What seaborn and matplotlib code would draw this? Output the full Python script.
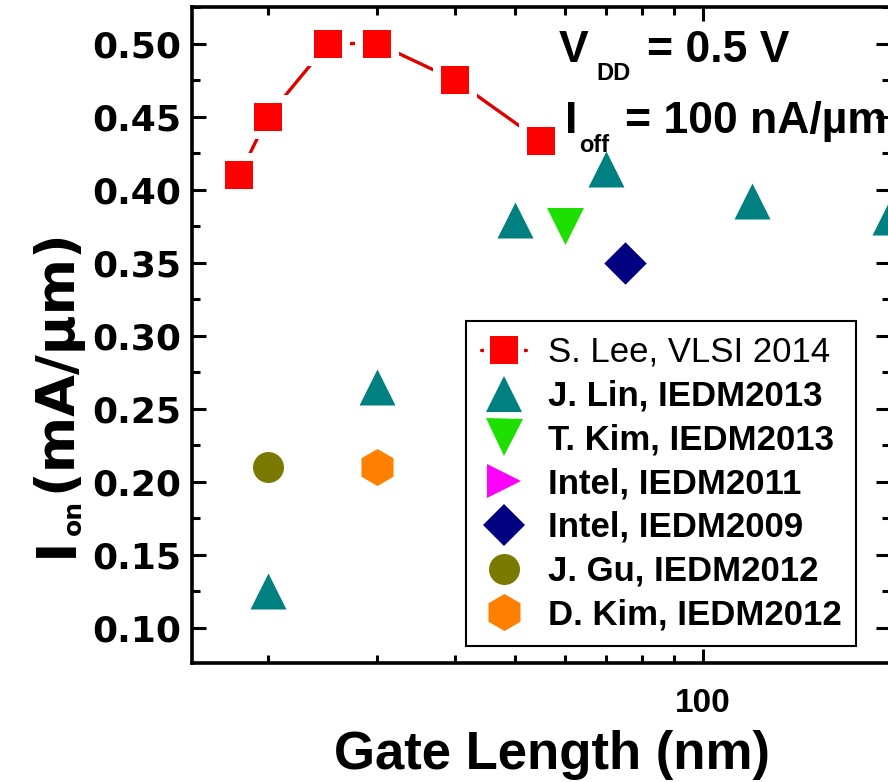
import numpy as np
import pandas as pd
import matplotlib
matplotlib.use("Agg")
import matplotlib.pyplot as plt
from matplotlib.lines import Line2D
from matplotlib.ticker import LogLocator, NullFormatter, FuncFormatter, MultipleLocator
import seaborn as sns

# On-current at V_DD = 0.5 V, I_off = 100 nA/um, versus gate length (nm)
lee_len = [18, 20, 25, 30, 40, 55]
lee_ion = [0.410, 0.450, 0.500, 0.500, 0.475, 0.433]
lin_len = [20, 30, 50, 70, 120, 200]
lin_ion = [0.125, 0.265, 0.379, 0.414, 0.392, 0.381]
tkim_len = [60]
tkim_ion = [0.375]
intel11_len = []
intel11_ion = []
intel09_len = [75]
intel09_ion = [0.350]
gu_len = [20]
gu_ion = [0.210]
dkim_len = [30]
dkim_ion = [0.210]

series_labels = ["S. Lee, VLSI 2014", "J. Lin, IEDM2013", "T. Kim, IEDM2013",
                 "Intel, IEDM2011", "Intel, IEDM2009", "J. Gu, IEDM2012",
                 "D. Kim, IEDM2012"]

W, H = 888, 782
PX = 0.72  # points per pixel at 100 dpi

sns.set_theme(style="ticks")
plt.rcParams["font.family"] = ["Liberation Sans", "DejaVu Sans"]
plt.rcParams["font.weight"] = "bold"

fig = plt.figure(figsize=(W / 100, H / 100), dpi=100)
fig.patch.set_facecolor("white")


def fx(px):
    return px / W


def fy(py):
    return 1 - py / H


ax = fig.add_axes([fx(192), fy(663), fx(890) - fx(192), fy(7) - fy(663)])
ax.set_facecolor("white")
ax.set_xscale("log")

# marker styles: (lengths, currents, marker, colour, size in px)
others = [
    (lin_len, lin_ion, "^", "#008080", 36),
    (tkim_len, tkim_ion, "v", "#1EE000", 37),
    (intel11_len, intel11_ion, ">", "#FF00FF", 34),
    (intel09_len, intel09_ion, "D", "#000080", 30),
    (gu_len, gu_ion, "o", "#7A7A00", 31),
    (dkim_len, dkim_ion, "h", "#FF7F00", 37),
]

lee = pd.DataFrame({"L": lee_len, "Ion": lee_ion})
sns.lineplot(data=lee, x="L", y="Ion", color="#E00000", lw=2.4, sort=False,
             estimator=None, ax=ax, legend=False, zorder=2)
# white pads leave a small gap between the line and each square
sns.scatterplot(data=lee, x="L", y="Ion", marker="s", s=(44 * PX) ** 2,
                color="white", linewidth=0, ax=ax, legend=False, zorder=3)
sns.scatterplot(data=lee, x="L", y="Ion", marker="s", s=(28 * PX) ** 2,
                color="#FF0000", linewidth=0, ax=ax, legend=False, zorder=4)

for xs, ys, mk, col, sz in others:
    if len(xs) == 0:
        continue
    df = pd.DataFrame({"L": xs, "Ion": ys})
    sns.scatterplot(data=df, x="L", y="Ion", marker=mk, s=(sz * PX) ** 2,
                    color=col, linewidth=0, ax=ax, legend=False, zorder=4)

ax.set_xlim(15.1, 200)
ax.set_ylim(0.076, 0.525)
ax.set_xlabel("")
ax.set_ylabel("")

ax.xaxis.set_major_locator(LogLocator(base=10))
ax.xaxis.set_major_formatter(FuncFormatter(lambda v, p: f"{v:.0f}"))
ax.xaxis.set_minor_locator(LogLocator(base=10, subs=np.arange(2, 10)))
ax.xaxis.set_minor_formatter(NullFormatter())
ax.yaxis.set_major_locator(MultipleLocator(0.05))
ax.yaxis.set_minor_locator(MultipleLocator(0.025))
ax.yaxis.set_major_formatter(FuncFormatter(lambda v, p: f"{v:.2f}"))

ax.tick_params(which="both", direction="in", top=True, right=True,
               width=2.2, color="black")
ax.tick_params(which="major", length=10)
ax.tick_params(which="minor", length=6)
ax.tick_params(axis="y", which="major", labelsize=26, pad=8,
               labelfontfamily="DejaVu Sans", labelcolor="black")
ax.tick_params(axis="x", which="major", labelsize=24, pad=18,
               labelfontfamily="Liberation Sans", labelcolor="black")
for s in ax.spines.values():
    s.set_linewidth(2.6)
    s.set_color("black")

# legend
lee_handle = (
    Line2D([], [], color="#E00000", lw=2.4),
    Line2D([], [], marker="s", ms=40 * PX, color="white", ls="none", mew=0),
    Line2D([], [], marker="s", ms=28 * PX, color="#FF0000", ls="none", mew=0),
)
handles = [lee_handle] + [
    Line2D([], [], marker=mk, ms=sz * PX, color=col, ls="none", mew=0)
    for _, _, mk, col, sz in others
]
leg = ax.legend(handles, series_labels, loc="upper left",
                bbox_to_anchor=(fx(466), fy(321)), bbox_transform=fig.transFigure,
                borderaxespad=0, frameon=True, fancybox=False, framealpha=1,
                edgecolor="black", borderpad=0.43, labelspacing=0.31,
                handlelength=1.3, handletextpad=0.62,
                prop={"family": "Liberation Sans", "weight": "bold", "size": 25})
leg.get_frame().set_linewidth(1.5)
leg.get_texts()[0].set_fontweight("normal")
for t in leg.get_texts():
    t.set_color("black")

# condition annotations
big = dict(family="Liberation Sans", weight="bold", size=32, color="black",
           va="baseline", ha="left")
small = dict(family="Liberation Sans", weight="bold", size=17, color="black",
             va="baseline", ha="left")
fig.text(fx(559), fy(62), "V", **big)
fig.text(fx(596), fy(80), "DD", **small)
fig.text(fx(647), fy(62), "= 0.5 V", **big)
fig.text(fx(565), fy(133), "I", **big)
fig.text(fx(579), fy(152), "off", **small)
fig.text(fx(625), fy(133), "= 100 nA/\u00b5m", **big)

# axis titles
fig.text(fx(552), fy(769), "Gate Length (nm)", family="Liberation Sans",
         weight="bold", size=38, color="black", ha="center", va="baseline")
ylab = dict(family="DejaVu Sans", weight="bold", color="black", rotation=90,
            rotation_mode="anchor", ha="left", va="baseline")
fig.text(fx(72), fy(557), "I", size=40, **ylab)
fig.text(fx(81), fy(535), "on", size=18, **ylab)
fig.text(fx(70), fy(492), "(mA/\u00b5m)", size=39, **ylab)

fig.savefig("out.png", dpi=100, facecolor="white")
